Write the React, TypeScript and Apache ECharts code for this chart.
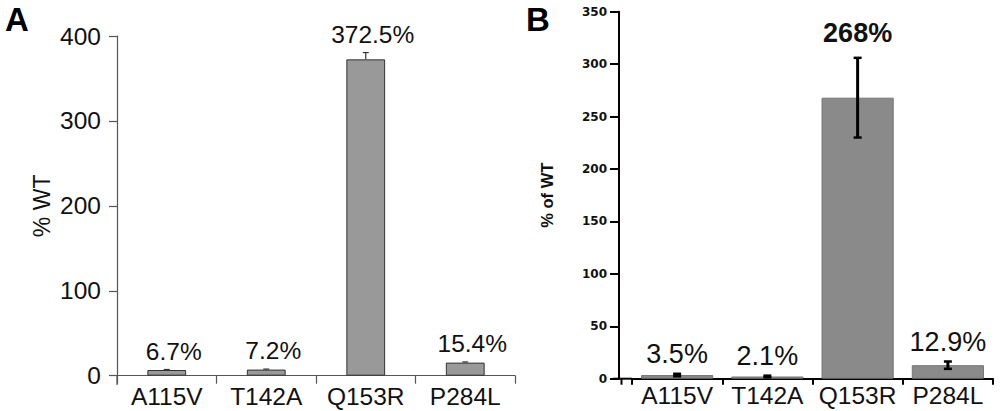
import React, { useEffect, useRef } from "react";
import * as echarts from "echarts";

const categories = ["A115V", "T142A", "Q153R", "P284L"];

const valuesA = [6.7, 7.2, 372.5, 15.4];
const errorsA = [0.6, 0.6, 8, 0.8];
const labelsA = ["6.7%", "7.2%", "372.5%", "15.4%"];

const valuesB = [3.5, 2.1, 268, 12.9];
const errorsB = [1.2, 0.8, 38, 3.5];
const labelsB = ["3.5%", "2.1%", "268%", "12.9%"];

const axisA = { min: 0, max: 400, interval: 100, name: "% WT" };
const axisB = { min: 0, max: 350, interval: 50, name: "% of WT" };

const FONT = "Liberation Sans, Arial, Helvetica, sans-serif";
const TICKFONT_B = "DejaVu Sans";

export default function App() {
  const ref = useRef<HTMLDivElement>(null);

  useEffect(() => {
    if (!ref.current) return;
    const chart = echarts.init(ref.current, null, { renderer: "svg" });

    const errA = categories.map((_, i) => [i, valuesA[i], errorsA[i]]);
    const errB = categories.map((_, i) => [i, valuesB[i], errorsB[i]]);

    const renderA = (params: any, api: any) => {
      const i = api.value(0);
      const v = api.value(1);
      const e = api.value(2);
      const base = api.coord([i, v]);
      const top = api.coord([i, v + e]);
      const x = base[0];
      return {
        type: "group",
        children: [
          {
            type: "line",
            shape: { x1: x, y1: base[1], x2: x, y2: top[1] },
            style: { stroke: "#333", lineWidth: 1.2 },
          },
          {
            type: "line",
            shape: { x1: x - 3, y1: top[1], x2: x + 3, y2: top[1] },
            style: { stroke: "#333", lineWidth: 1.2 },
          },
          {
            type: "text",
            style: {
              text: labelsA[params.dataIndex],
              x: x + 7,
              y: top[1] - 6,
              align: "center",
              verticalAlign: "bottom",
              fontSize: 24.5,
              fontFamily: FONT,
              fill: "#111",
            },
          },
        ],
      };
    };

    const renderB = (params: any, api: any) => {
      const i = api.value(0);
      const v = api.value(1);
      const e = api.value(2);
      const top = api.coord([i, v + e]);
      const bot = api.coord([i, v - e]);
      const x = top[0];
      const idx = params.dataIndex;
      return {
        type: "group",
        children: [
          {
            type: "line",
            shape: { x1: x, y1: bot[1], x2: x, y2: top[1] },
            style: { stroke: "#000", lineWidth: 3 },
          },
          {
            type: "line",
            shape: { x1: x - 4, y1: top[1], x2: x + 4, y2: top[1] },
            style: { stroke: "#000", lineWidth: 2.5 },
          },
          {
            type: "line",
            shape: { x1: x - 4, y1: bot[1], x2: x + 4, y2: bot[1] },
            style: { stroke: "#000", lineWidth: 2.5 },
          },
          {
            type: "text",
            style: {
              text: labelsB[idx],
              x: x,
              y: top[1] - (idx === 2 ? 11 : 6),
              align: "center",
              verticalAlign: "bottom",
              fontSize: 27,
              fontWeight: idx === 2 ? "bold" : "normal",
              fontFamily: FONT,
              fill: "#111",
            },
          },
        ],
      };
    };

    chart.setOption({
      animation: false,
      textStyle: { fontFamily: FONT },
      grid: [
        { left: 117, right: 485, top: 36, bottom: 35.3, containLabel: false },
        { left: 632, right: 7, top: 11.7, bottom: 32.3, containLabel: false },
      ],
      xAxis: [
        {
          type: "category",
          gridIndex: 0,
          data: categories,
          axisLine: { lineStyle: { color: "#555", width: 1.2 } },
          axisTick: { show: true, length: 8, lineStyle: { color: "#555", width: 1.2 } },
          axisLabel: { interval: 0, margin: 8, fontSize: 24.5, color: "#111", fontFamily: FONT },
          splitLine: { show: false },
        },
        {
          type: "category",
          gridIndex: 1,
          data: categories,
          axisLine: { lineStyle: { color: "#000", width: 2 } },
          axisTick: { show: true, length: 6, lineStyle: { color: "#000", width: 2 } },
          axisLabel: { interval: 0, margin: 4, fontSize: 24.5, color: "#111", fontFamily: FONT },
          splitLine: { show: false },
        },
      ],
      yAxis: [
        {
          type: "value",
          gridIndex: 0,
          min: axisA.min,
          max: axisA.max,
          interval: axisA.interval,
          name: axisA.name,
          nameLocation: "middle",
          nameRotate: 90,
          nameGap: 64,
          nameTextStyle: { fontSize: 23, color: "#111", fontFamily: FONT },
          axisLine: { show: true, lineStyle: { color: "#555", width: 1.2 } },
          axisTick: { show: true, length: 8, lineStyle: { color: "#555", width: 1.2 } },
          axisLabel: { margin: 16, fontSize: 24.5, color: "#111", fontFamily: FONT },
          splitLine: { show: false },
        },
        {
          type: "value",
          gridIndex: 1,
          offset: 13,
          min: axisB.min,
          max: axisB.max,
          interval: axisB.interval,
          name: axisB.name,
          nameLocation: "middle",
          nameRotate: 90,
          nameGap: 64,
          nameTextStyle: { fontSize: 16.5, fontWeight: "bold", color: "#111", fontFamily: FONT },
          axisLine: { show: true, lineStyle: { color: "#000", width: 2 } },
          axisTick: { show: true, length: 9, lineStyle: { color: "#000", width: 2 } },
          axisLabel: { margin: 12, fontSize: 12, fontWeight: "bold", color: "#111", fontFamily: TICKFONT_B },
          splitLine: { show: false },
        },
      ],
      graphic: [
        {
          type: "text",
          left: 5,
          top: 3,
          style: { text: "A", fontSize: 33, fontWeight: "bold", fontFamily: FONT, fill: "#000" },
        },
        {
          type: "text",
          left: 526,
          top: 3,
          style: { text: "B", fontSize: 33, fontWeight: "bold", fontFamily: FONT, fill: "#000" },
        },
        {
          type: "line",
          shape: { x1: 117, y1: 375.7, x2: 117, y2: 385 },
          style: { stroke: "#555", lineWidth: 1.2 },
        },
        {
          type: "line",
          shape: { x1: 613, y1: 378.7, x2: 632, y2: 378.7 },
          style: { stroke: "#000", lineWidth: 2 },
        },
        {
          type: "line",
          shape: { x1: 621.5, y1: 378.7, x2: 621.5, y2: 384.7 },
          style: { stroke: "#000", lineWidth: 2 },
        },
      ],
      series: [
        {
          type: "bar",
          xAxisIndex: 0,
          yAxisIndex: 0,
          data: valuesA,
          barWidth: "39%",
          itemStyle: { color: "#999999", borderColor: "#333", borderWidth: 1 },
          z: 2,
        },
        {
          type: "custom",
          xAxisIndex: 0,
          yAxisIndex: 0,
          data: errA,
          renderItem: renderA,
          z: 3,
        },
        {
          type: "bar",
          xAxisIndex: 1,
          yAxisIndex: 1,
          data: valuesB,
          barWidth: "80%",
          itemStyle: { color: "#8a8a8a", borderColor: "#777", borderWidth: 1 },
          z: 2,
        },
        {
          type: "custom",
          xAxisIndex: 1,
          yAxisIndex: 1,
          data: errB,
          renderItem: renderB,
          z: 3,
        },
      ],
    });

    return () => chart.dispose();
  }, []);

  return (
    <div
      ref={ref}
      style={{ position: "absolute", left: 0, top: 0, width: 1000, height: 411, background: "#fff" }}
    />
  );
}
